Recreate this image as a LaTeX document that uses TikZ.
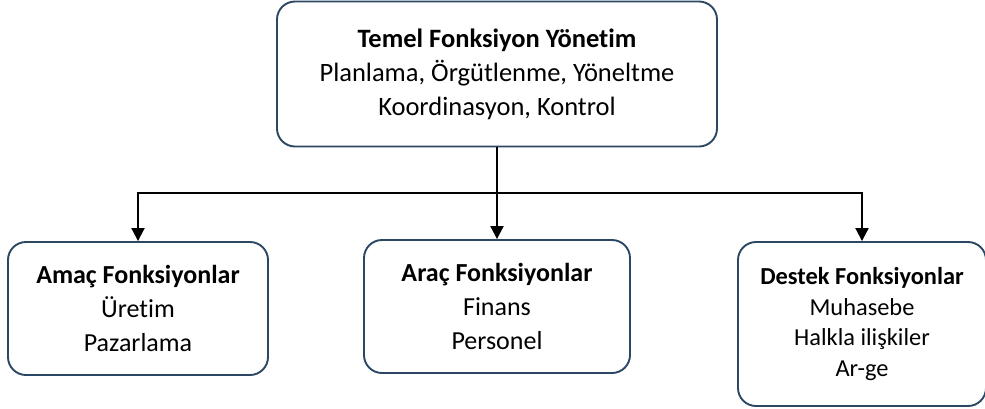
\documentclass[tikz,border=0pt]{standalone}
\usepackage{fontspec}
\setmainfont[Ligatures=NoCommon]{Carlito}
\usetikzlibrary{arrows.meta}
\definecolor{boxline}{HTML}{2B4764}
\begin{document}
\begin{tikzpicture}[x=1pt,y=-1pt,
  box/.style={draw=boxline, line width=1.9pt, rounded corners=18pt, align=center,
    font=\fontsize{26}{34}\selectfont, inner sep=0pt},
  conn/.style={draw=black, line width=2pt},
  tip/.style={conn, -{Triangle[width=13pt,length=13pt]}}]
\useasboundingbox (0,0) rectangle (985,408);

% top management box
\node[box, font=\fontsize{26.5}{34}\selectfont, minimum width=440pt, minimum height=145pt] (top) at (497,74)
  {\textbf{Temel Fonksiyon Yönetim}\\Planlama, Örgütlenme, Yöneltme\\Koordinasyon, Kontrol};

% function group boxes
\node[box, minimum width=260pt, minimum height=133pt] (amac) at (138,308.5)
  {\textbf{Amaç Fonksiyonlar}\\Üretim\\Pazarlama};
\node[box, minimum width=266pt, minimum height=133pt] (arac) at (497,306.5)
  {\textbf{Araç Fonksiyonlar}\\Finans\\Personel};
\node[box, font=\fontsize{24.4}{30.5}\selectfont, minimum width=248pt, minimum height=164pt] (destek) at (862,324)
  {\textbf{Destek Fonksiyonlar}\\Muhasebe\\Halkla ilişkiler\\Ar-ge};

% connectors
\coordinate (hub) at (497,193);
\draw[conn] (top.south) -- (hub);
\draw[tip] (hub) -| (amac.north);
\draw[tip] (hub) -- (arac.north);
\draw[tip] (hub) -| (destek.north);
\end{tikzpicture}
\end{document}
